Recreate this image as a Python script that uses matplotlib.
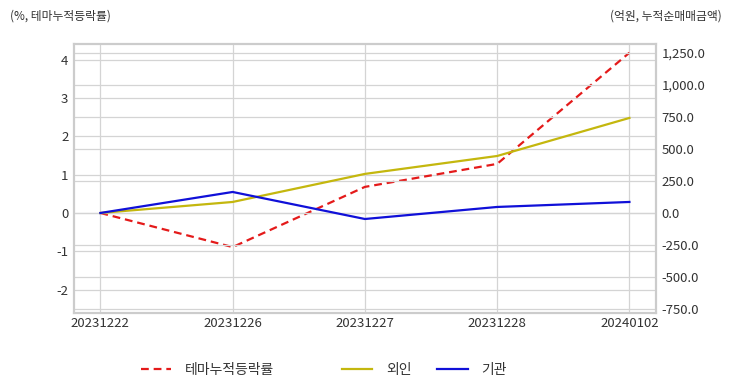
import matplotlib.pyplot as plt

plt.rcParams['font.family'] = ['Noto Sans CJK KR', 'DejaVu Sans']
plt.rcParams['axes.unicode_minus'] = False

dates = ['20231222', '20231226', '20231227', '20231228', '20240102']
theme_rate = [0.0, -0.89, 0.68, 1.28, 4.18]
foreign = [0.0, 86.0, 305.0, 445.0, 742.0]
institution = [0.0, 164.0, -47.0, 47.0, 86.0]

grid_c = '#d4d4d4'
text_c = '#333333'

fig = plt.figure(figsize=(7.32, 3.92), dpi=100)
ax = fig.add_axes([0.101, 0.2015, 0.795, 0.6865])
ax2 = ax.twinx()

x = range(len(dates))
l1, = ax.plot(x, theme_rate, color='#e41a1a', linestyle='--', linewidth=1.6,
              dashes=(3.5, 2.2), label='테마누적등락률')
l2, = ax2.plot(x, foreign, color='#c4b70e', linewidth=1.6, label='외인')
l3, = ax2.plot(x, institution, color='#1010d8', linewidth=1.6, label='기관')

ax.set_xlim(-0.2, 4.2)
ax.set_ylim(-2.61, 4.41)
ax2.set_ylim(-781, 1320)
ax.set_yticks([-2, -1, 0, 1, 2, 3, 4])
ax2.set_yticks([-750, -500, -250, 0, 250, 500, 750, 1000, 1250])
ax2.set_yticklabels([f'{v:,.1f}' for v in ax2.get_yticks()])
ax.set_xticks(list(x))
ax.set_xticklabels(dates)

for a in (ax, ax2):
    a.grid(True, axis='y', color=grid_c, linewidth=0.9)
    a.tick_params(length=0, labelsize=9.5, labelcolor=text_c, pad=4)
    for s in a.spines.values():
        s.set_color('#cccccc')
        s.set_linewidth(1.5)
ax.grid(True, axis='x', color=grid_c, linewidth=0.9)
ax.set_axisbelow(True)
ax2.set_axisbelow(True)
ax.tick_params(axis='x', pad=3)

fig.text(0.014, 0.958, '(%, 테마누적등락률)', fontsize=8.5, color=text_c, va='center')
fig.text(0.986, 0.958, '(억원, 누적순매매금액)', fontsize=8.5, color=text_c,
         va='center', ha='right')

for h, xpos in [(l1, 0.175), (l2, 0.450), (l3, 0.580)]:
    fig.legend(handles=[h], loc='center left', bbox_to_anchor=(xpos, 0.057),
               frameon=False, fontsize=10, handlelength=2.2, handletextpad=1.0,
               labelcolor=text_c)

fig.savefig('out.png', dpi=100)
